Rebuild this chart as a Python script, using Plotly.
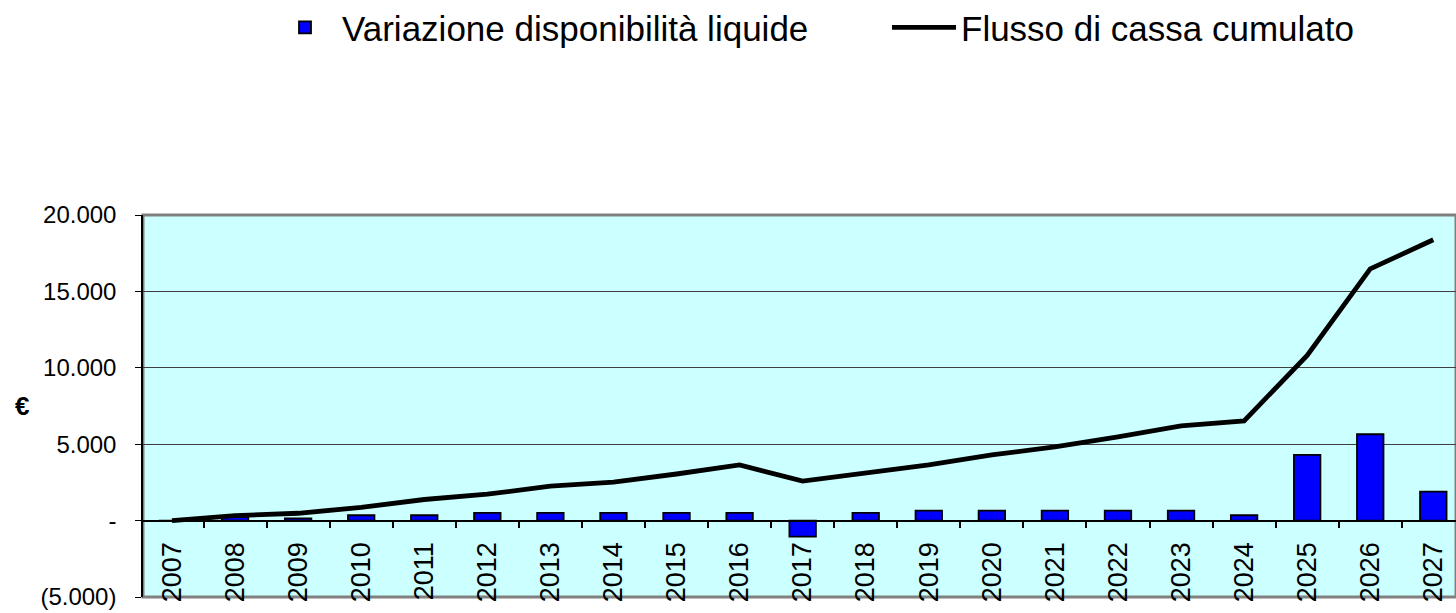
import plotly.graph_objects as go

years = ["2007", "2008", "2009", "2010", "2011", "2012", "2013", "2014", "2015", "2016",
         "2017", "2018", "2019", "2020", "2021", "2022", "2023", "2024", "2025", "2026", "2027"]
variazione = [0, 250, 150, 350, 350, 500, 500, 500, 500, 500,
              -1050, 500, 650, 650, 650, 650, 650, 350, 4300, 5650, 1900]
cumulato = [0, 330, 480, 870, 1380, 1730, 2250, 2520, 3050, 3640,
            2590, 3110, 3640, 4300, 4820, 5480, 6200, 6530, 10810, 16470, 18380]
ytickvals = [-5000, 0, 5000, 10000, 15000, 20000]
yticktext = ["(5.000)", "-", "5.000", "10.000", "15.000", "20.000"]

FONT = "Liberation Sans, Arial, sans-serif"

fig = go.Figure()
fig.add_trace(go.Bar(
    x=years, y=variazione, name="Variazione disponibilità liquide",
    marker=dict(color="#0000FF", line=dict(color="black", width=1.8)),
    width=0.42,
))
fig.add_trace(go.Scatter(
    x=years, y=cumulato, name="Flusso di cassa cumulato", mode="lines",
    line=dict(color="black", width=4.8),
))

fig.update_layout(
    width=1456, height=613,
    margin=dict(l=143, r=0, t=215, b=16, autoexpand=False),
    paper_bgcolor="white",
    plot_bgcolor="#CCFFFF",
    font=dict(family=FONT, color="black"),
    showlegend=True,
    legend=dict(orientation="h", xref="paper", yref="container",
                x=0.0952, y=0.955, xanchor="left", yanchor="middle",
                font=dict(size=35, family=FONT), itemwidth=64,
                entrywidth=540, entrywidthmode="pixels",
                bgcolor="rgba(0,0,0,0)"),
    xaxis=dict(
        type="category", range=[-0.46, 20.36],
        anchor="free", position=0.2, automargin=False,
        showline=True, linecolor="black", linewidth=1.5,
        ticks="outside", ticklen=7, tickcolor="black", tickwidth=1.5,
        tickson="boundaries", tickangle=-90,
        ticklabelstandoff=10,
        tickfont=dict(size=27, family=FONT),
        showgrid=False,
    ),
    yaxis=dict(
        range=[-5000, 20000], tickvals=ytickvals, ticktext=yticktext,
        automargin=False,
        showline=True, linecolor="black", linewidth=1.5,
        ticks="outside", ticklen=6, tickcolor="black",
        ticklabelstandoff=14,
        tickfont=dict(size=24, family=FONT),
        showgrid=True, gridcolor="#404040", gridwidth=1,
        zeroline=False,
    ),
    shapes=[dict(type="rect", xref="paper", yref="paper", x0=0, x1=1, y0=0, y1=1,
                 line=dict(color="#808080", width=3), layer="below")],
    annotations=[dict(text="<b>€</b>", xref="paper", yref="paper", x=0, y=0.501,
                      xshift=-121, xanchor="center", yanchor="middle", showarrow=False,
                      font=dict(size=26, family=FONT))],
)

fig.write_html("out.html", config={"displayModeBar": False},
               post_script="document.body.style.margin='0';")
